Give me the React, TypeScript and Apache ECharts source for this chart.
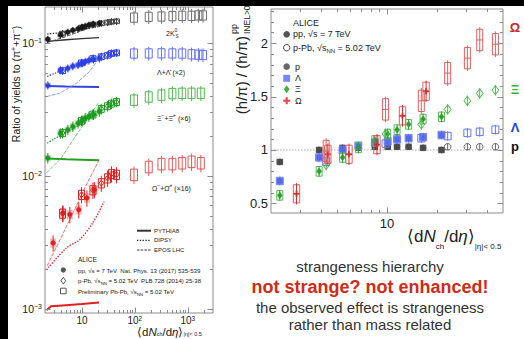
import React, { useEffect, useRef } from 'react';
import * as echarts from 'echarts';

const FONT = '"Liberation Sans", Arial, Helvetica, sans-serif';
const INK = '#222';
const FRAME = '#8c8c8c';

// ---- multiplicity classes <dNch/deta> ----
const ppMult = [2.26, 3.9, 5.4, 6.72, 8.45, 10.1, 11.5, 13.5, 16.5, 21.3];
const ppMultOmega = [2.85, 4.4, 5.9, 8.7, 12.4, 17.2];
const pPbMult = [4.3, 9.8, 16.1, 23.2, 30.5, 36.2, 45];
const pPbMultProton = [23.2, 30.5, 36.2, 45];
const pbpbMult = [96.3, 183, 318, 512, 786, 1180, 1587, 1943];
const pbpbMult7 = [96.3, 183, 318, 512, 786, 1180, 1764];

// ---- left panel: ratio of yields to pions ----
const k0sPP = [0.107, 0.115, 0.121, 0.125, 0.128, 0.132, 0.134, 0.137, 0.139, 0.141];
const k0sPPb = [0.118, 0.131, 0.138, 0.141, 0.143, 0.145, 0.146];
const k0sPbPb = [0.156, 0.158, 0.159, 0.16, 0.161, 0.161, 0.162, 0.162];
const lamPP = [0.048, 0.0626, 0.0645, 0.067, 0.0684, 0.0705, 0.0724, 0.074, 0.0755, 0.0767];
const lamPPb = [0.062, 0.071, 0.0765, 0.079, 0.081, 0.0836, 0.0845];
const lamPbPb = [0.0836, 0.0838, 0.084, 0.0838, 0.0836, 0.0825, 0.082, 0.0815];
const xiPP = [0.0136, 0.0209, 0.0222, 0.0235, 0.0249, 0.026, 0.0272, 0.028, 0.029, 0.0305];
const xiPPb = [0.021, 0.026, 0.029, 0.032, 0.0335, 0.035, 0.036];
const xiPbPb = [0.0373, 0.0394, 0.0407, 0.0418, 0.042, 0.042, 0.042];
const omPP = [0.00312, 0.00525, 0.0051, 0.00555, 0.0068, 0.00785];
const omPPb = [0.0052, 0.0072, 0.0078, 0.0088, 0.0096, 0.01035, 0.0102];
const omPbPb = [0.0102, 0.0117, 0.0123, 0.0123, 0.0125, 0.0128, 0.0125];

// ---- left panel: model curves ----
const k0sPythiaX = [2.2, 5, 10, 21];
const k0sPythiaY = [0.103, 0.106, 0.108, 0.11];
const k0sDipsyX = [2.2, 4, 8, 21];
const k0sDipsyY = [0.117, 0.12, 0.125, 0.133];
const k0sEposX = [2.2, 5, 10, 21];
const k0sEposY = [0.101, 0.112, 0.124, 0.138];
const lamPythiaX = [2.2, 5, 10, 21];
const lamPythiaY = [0.0475, 0.047, 0.0468, 0.0466];
const lamDipsyX = [2.2, 3, 5, 8, 12, 20];
const lamDipsyY = [0.056, 0.059, 0.064, 0.068, 0.072, 0.076];
const lamEposX = [2.14, 3.8, 7.8, 13.8, 21];
const lamEposY = [0.0395, 0.0419, 0.0497, 0.0608, 0.0767];
const xiPythiaX = [2.2, 5, 10, 21];
const xiPythiaY = [0.0135, 0.0133, 0.0132, 0.0131];
const xiDipsyX = [2.2, 3, 5, 8, 12, 20];
const xiDipsyY = [0.0176, 0.019, 0.021, 0.0235, 0.026, 0.029];
const xiEposX = [2.14, 4, 7, 12, 21];
const xiEposY = [0.0105, 0.0135, 0.019, 0.026, 0.036];
const omPythiaX = [2.14, 2.6, 5, 10, 21];
const omPythiaY = [0.00097, 0.00104, 0.00106, 0.00108, 0.00111];
const omDipsyX = [2.14, 5.07, 8.98, 15.9, 26.3];
const omDipsyY = [0.00196, 0.00286, 0.0033, 0.0044, 0.0064];
const omEposX = [2.2, 4, 7.24, 12, 21.2];
const omEposY = [0.0021, 0.0034, 0.00555, 0.0085, 0.0132];

// ---- right panel: double ratio (h/pi)/(h/pi)pp INEL>0 ----
const protonPP = [0.888, 1.0, 1.02, 1.02, 1.03, 1.03, 1.03, 1.03, 1.02, 1.0];
const protonPPb = [1.03, 1.03, 1.03, 1.03];
const lambdaPP = [0.71, 0.93, 1.0, 1.04, 1.07, 1.08, 1.1, 1.11, 1.12, 1.14];
const lambdaPPb = [0.89, 1.06, 1.11, 1.13, 1.16, 1.17, 1.19];
const xiRPP = [0.575, 0.8, 0.93, 1.02, 1.09, 1.15, 1.19, 1.24, 1.29, 1.31];
const xiRPPb = [0.86, 1.15, 1.24, 1.38, 1.46, 1.53, 1.56];
const omegaPP = [0.59, 0.96, 0.96, 1.05, 1.32, 1.55];
const omegaPPb = [0.99, 1.38, 1.46, 1.72, 1.86, 2.03, 1.99];
const referenceLevel = [1];

// ---- tick labels ----
const leftXTickValues = [10, 100, 1000];
const leftXTickExp = ['', '2', '3'];
const leftYTickValues = [0.001, 0.01, 0.1];
const leftYTickExp = ['−3', '−2', '−1'];
const rightXTickValues = [10];
const rightXTickLabels = ['10'];
const rightYTickValues = [0.5, 1, 1.5, 2];
const rightYTickLabels = ['0.5', '1', '1.5', '2'];

function logMinor(decades: number[], lo: number, hi: number): number[] {
  const out: number[] = [];
  decades.forEach((d) => {
    for (let k = 2; k <= 9; k++) {
      const v = +(k * d).toPrecision(6);
      if (v > lo * 1.0001 && v < hi * 0.9999) out.push(v);
    }
  });
  return out;
}
const leftXMinor = logMinor([1, 10, 100, 1000], 2, 3000);
const leftYMinor = logMinor([0.0001, 0.001, 0.01, 0.1], 0.000925, 0.187);
const rightXMinor = logMinor([1, 10], 2, 50);
const rightYMinor: number[] = [];
for (let i = 5; i <= 23; i++) if (i % 5 !== 0) rightYMinor.push(i / 10);

type PStyle = {
  shape: 'circle' | 'square' | 'diamond' | 'plus' | 'none';
  filled: boolean;
  color: string;
  boxFill?: string;
  boxStroke?: string;
  bw: number;
  ms: number;
  bar: string;
  cross?: boolean;
};

function markerShape(shape: string, filled: boolean, color: string, cx: number, cy: number, m: number): any[] {
  const st = filled ? { fill: color, stroke: color, lineWidth: 0.5 } : { fill: 'none', stroke: color, lineWidth: 1 };
  if (shape === 'circle') return [{ type: 'circle', shape: { cx, cy, r: m }, style: st }];
  if (shape === 'square') return [{ type: 'rect', shape: { x: cx - m, y: cy - m, width: 2 * m, height: 2 * m }, style: st }];
  if (shape === 'diamond')
    return [{ type: 'polygon', shape: { points: [[cx, cy - m * 1.35], [cx + m, cy], [cx, cy + m * 1.35], [cx - m, cy]] }, style: st }];
  if (shape === 'plus')
    return [
      { type: 'rect', shape: { x: cx - m, y: cy - 0.9, width: 2 * m, height: 1.8 }, style: { fill: color } },
      { type: 'rect', shape: { x: cx - 0.9, y: cy - m, width: 1.8, height: 2 * m }, style: { fill: color } },
    ];
  return [];
}

function makeRender(st: PStyle) {
  return (params: any, api: any) => {
    const x = api.value(0);
    const p = api.coord([x, api.value(1)]);
    const eLo = api.coord([x, api.value(2)])[1];
    const eHi = api.coord([x, api.value(3)])[1];
    const bLo = api.coord([x, api.value(4)])[1];
    const bHi = api.coord([x, api.value(5)])[1];
    const ch: any[] = [];
    if (st.bw > 0 && (st.boxFill || st.boxStroke))
      ch.push({
        type: 'rect',
        shape: { x: p[0] - st.bw, y: bHi, width: 2 * st.bw, height: bLo - bHi },
        style: { fill: st.boxFill || 'none', stroke: st.boxStroke || 'none', lineWidth: 1 },
      });
    ch.push({ type: 'line', shape: { x1: p[0], y1: eLo, x2: p[0], y2: eHi }, style: { stroke: st.bar, lineWidth: 1 } });
    if (st.cross)
      ch.push({ type: 'line', shape: { x1: p[0] - st.bw, y1: p[1], x2: p[0] + st.bw, y2: p[1] }, style: { stroke: st.bar, lineWidth: 1 } });
    markerShape(st.shape, st.filled, st.color, p[0], p[1], st.ms).forEach((e) => ch.push(e));
    return { type: 'group', children: ch };
  };
}

function points(gi: number, xs: number[], ys: number[], box: number, bar: number, rel: boolean, st: PStyle) {
  const data = xs.map((x, i) => {
    const y = ys[i];
    return rel
      ? [x, y, y * (1 - bar), y * (1 + bar), y * (1 - box), y * (1 + box)]
      : [x, y, y - bar, y + bar, y - box, y + box];
  });
  return { type: 'custom', xAxisIndex: gi, yAxisIndex: gi, data, encode: { x: 0, y: 1 }, renderItem: makeRender(st), silent: true, z: 3 };
}

function model(xs: number[], ys: number[], color: string, kind: 'pythia' | 'dipsy' | 'epos', width?: number) {
  return {
    type: 'line',
    xAxisIndex: 0,
    yAxisIndex: 0,
    data: xs.map((x, i) => [x, ys[i]]),
    showSymbol: false,
    symbol: 'none',
    smooth: kind === 'dipsy' ? 0.3 : false,
    silent: true,
    z: 2,
    lineStyle: {
      color,
      width: width || (kind === 'pythia' ? 2 : kind === 'dipsy' ? 1.3 : 0.9),
      type: kind === 'pythia' ? 'solid' : kind === 'dipsy' ? [1.4, 1.4] : [4, 1.2],
    },
  };
}

function ticks(gi: number, dir: 'x' | 'y', values: number[], major: boolean, ref: number) {
  const L = major ? 5.5 : 3;
  return {
    type: 'custom',
    xAxisIndex: gi,
    yAxisIndex: gi,
    silent: true,
    z: 6,
    data: values.map((v) => (dir === 'x' ? [v, ref] : [ref, v])),
    encode: { x: 0, y: 1 },
    renderItem: (params: any, api: any) => {
      const cs = params.coordSys;
      const p = api.coord([api.value(0), api.value(1)]);
      const st = { stroke: FRAME, lineWidth: 1 };
      if (dir === 'x') {
        const x = Math.round(p[0]) + 0.5;
        return {
          type: 'group',
          children: [
            { type: 'line', shape: { x1: x, y1: cs.y + cs.height, x2: x, y2: cs.y + cs.height - L }, style: st },
            { type: 'line', shape: { x1: x, y1: cs.y, x2: x, y2: cs.y + L }, style: st },
          ],
        };
      }
      const y = Math.round(p[1]) + 0.5;
      return {
        type: 'group',
        children: [
          { type: 'line', shape: { x1: cs.x, y1: y, x2: cs.x + L, y2: y }, style: st },
          { type: 'line', shape: { x1: cs.x + cs.width, y1: y, x2: cs.x + cs.width - L, y2: y }, style: st },
        ],
      };
    },
  };
}

function labels(gi: number, dir: 'x' | 'y', values: number[], texts: string[], ref: number, size: number, supSize: number, offset: number) {
  return {
    type: 'custom',
    xAxisIndex: gi,
    yAxisIndex: gi,
    silent: true,
    z: 6,
    data: values.map((v) => (dir === 'x' ? [v, ref] : [ref, v])),
    encode: { x: 0, y: 1 },
    renderItem: (params: any, api: any) => {
      const cs = params.coordSys;
      const p = api.coord([api.value(0), api.value(1)]);
      const t = texts[params.dataIndex];
      const rich = {
        b: { fontSize: size, fontFamily: FONT, fill: INK, lineHeight: size + 1 },
        s: { fontSize: supSize, fontFamily: FONT, fill: INK, lineHeight: supSize, verticalAlign: 'top' },
      };
      return {
        type: 'text',
        x: dir === 'x' ? p[0] : cs.x - offset,
        y: dir === 'x' ? cs.y + cs.height + offset : p[1],
        style: { text: t, rich, align: dir === 'x' ? 'center' : 'right', verticalAlign: 'middle' },
      };
    },
  };
}

const pow10 = (exp: string[]) => exp.map((e) => (e ? `{b|10}{s|${e}}` : '{b|10}'));

const refLineSeries = {
  type: 'custom',
  xAxisIndex: 1,
  yAxisIndex: 1,
  silent: true,
  z: 1,
  data: referenceLevel.map((v) => [10, v]),
  encode: { x: 0, y: 1 },
  renderItem: (params: any, api: any) => {
    const cs = params.coordSys;
    const y = api.coord([api.value(0), api.value(1)])[1];
    return {
      type: 'line',
      shape: { x1: cs.x, y1: y, x2: cs.x + cs.width, y2: y },
      style: { stroke: '#b0b0b0', lineWidth: 1, lineDash: [1.5, 1.5] },
    };
  },
};

// colours
const LK = '#1a1a1a', LL = '#3040e8', LX = '#1f9a1f', LO = '#dd2020';
const PK = '#707070', PL = '#6474f2', PX = '#52b852', PO = '#e05a5a';

function ppStyle(c: string, fill: string): PStyle {
  return { shape: 'circle', filled: true, color: c, boxFill: fill, bw: 3, ms: 2.3, bar: c };
}
function pPbStyle(c: string): PStyle {
  return { shape: 'diamond', filled: false, color: c, boxStroke: c, bw: 3, ms: 2.3, bar: c };
}
function pbStyle(c: string): PStyle {
  return { shape: 'none', filled: false, color: c, boxStroke: c, bw: 3.5, ms: 0, bar: c };
}

const leftSeries: any[] = [
  model(k0sPythiaX, k0sPythiaY, '#333', 'pythia', 1.4),
  model(k0sDipsyX, k0sDipsyY, '#333', 'dipsy'),
  model(k0sEposX, k0sEposY, '#555', 'epos'),
  model(lamPythiaX, lamPythiaY, '#3344dd', 'pythia'),
  model(lamDipsyX, lamDipsyY, '#3344dd', 'dipsy'),
  model(lamEposX, lamEposY, '#8090ff', 'epos'),
  model(xiPythiaX, xiPythiaY, '#22a022', 'pythia'),
  model(xiDipsyX, xiDipsyY, '#22a022', 'dipsy'),
  model(xiEposX, xiEposY, '#6cc46c', 'epos'),
  model(omPythiaX, omPythiaY, '#e02020', 'pythia'),
  model(omDipsyX, omDipsyY, '#e02020', 'dipsy'),
  model(omEposX, omEposY, '#ee6060', 'epos'),
  points(0, pbpbMult, k0sPbPb, 0.08, 0.12, true, pbStyle(PK)),
  points(0, pbpbMult, lamPbPb, 0.08, 0.12, true, pbStyle(PL)),
  points(0, pbpbMult7, xiPbPb, 0.09, 0.13, true, pbStyle(PX)),
  points(0, pbpbMult7, omPbPb, 0.1, 0.15, true, pbStyle(PO)),
  points(0, pPbMult, k0sPPb, 0.04, 0.06, true, pPbStyle('#444')),
  points(0, ppMult, k0sPP, 0.04, 0.06, true, ppStyle(LK, 'rgba(0,0,0,0.3)')),
  points(0, pPbMult, lamPPb, 0.05, 0.07, true, pPbStyle(LL)),
  points(0, ppMult, lamPP, 0.05, 0.07, true, ppStyle(LL, 'rgba(48,64,232,0.3)')),
  points(0, pPbMult, xiPPb, 0.06, 0.09, true, pPbStyle(LX)),
  points(0, ppMult, xiPP, 0.06, 0.09, true, ppStyle(LX, 'rgba(31,154,31,0.3)')),
  points(0, pPbMult, omPPb, 0.08, 0.14, true, pPbStyle(LO)),
  points(0, ppMultOmega, omPP, 0.08, 0.14, true, ppStyle(LO, 'rgba(221,32,32,0.3)')),
  ticks(0, 'x', leftXTickValues, true, 0.01),
  ticks(0, 'x', leftXMinor, false, 0.01),
  ticks(0, 'y', leftYTickValues, true, 10),
  ticks(0, 'y', leftYMinor, false, 10),
  labels(0, 'x', leftXTickValues, pow10(leftXTickExp), 0.01, 10, 6.5, 7),
  labels(0, 'y', leftYTickValues, pow10(leftYTickExp), 10, 10.5, 7, 3),
];

const rightSeries: any[] = [
  refLineSeries,
  points(1, ppMult, protonPP, 0.03, 0.03, false, { shape: 'circle', filled: true, color: '#4a4a4a', boxFill: '#5e5e5e', bw: 3.3, ms: 2.8, bar: '#4a4a4a' }),
  points(1, pPbMultProton, protonPPb, 0.02, 0.03, false, { shape: 'circle', filled: false, color: '#666', bw: 0, ms: 3.3, bar: '#666' }),
  points(1, ppMult, lambdaPP, 0.035, 0.04, false, { shape: 'square', filled: true, color: '#5568ee', boxFill: 'rgba(120,135,255,0.55)', boxStroke: 'rgba(110,125,255,0.9)', bw: 3.5, ms: 2.8, bar: '#5568ee' }),
  points(1, pPbMult, lambdaPPb, 0.035, 0.045, false, { shape: 'none', filled: false, color: '#6677ee', boxStroke: '#6677ee', bw: 3.5, ms: 0, bar: '#6677ee' }),
  points(1, ppMult, xiRPP, 0.045, 0.05, false, { shape: 'diamond', filled: true, color: '#2e9e2e', boxStroke: '#55bb55', bw: 3, ms: 2.5, bar: '#2e9e2e' }),
  points(1, pPbMult, xiRPPb, 0.04, 0.05, false, { shape: 'diamond', filled: false, color: '#44bb44', bw: 0, ms: 3.4, bar: '#44bb44' }),
  points(1, ppMultOmega, omegaPP, 0.085, 0.1, false, { shape: 'plus', filled: true, color: '#d03030', boxStroke: '#e06060', bw: 3.2, ms: 3, bar: '#d03030' }),
  points(1, pPbMult, omegaPPb, 0.1, 0.12, false, { shape: 'none', filled: false, color: '#e06060', boxStroke: '#e06060', bw: 3, ms: 0, bar: '#e06060', cross: true }),
  ticks(1, 'x', rightXTickValues, true, 1),
  ticks(1, 'x', rightXMinor, false, 1),
  ticks(1, 'y', rightYTickValues, true, 10),
  ticks(1, 'y', rightYMinor, false, 10),
  labels(1, 'x', rightXTickValues, rightXTickLabels.map((t) => `{b|${t}}`), 1, 13, 8, 10.5),
  labels(1, 'y', rightYTickValues, rightYTickLabels.map((t) => `{b|${t}}`), 10, 13, 8, 3),
];

const txt = (x: number, y: number, text: string, size: number, extra: any = {}) => ({
  type: 'text',
  x,
  y,
  z: 10,
  style: { text, fontSize: size, fontFamily: FONT, fill: INK, align: 'left', verticalAlign: 'middle', ...extra },
});

const richT = (x: number, y: number, text: string, size: number, subSize: number, extra: any = {}) => ({
  type: 'text',
  x,
  y,
  z: 10,
  style: {
    text,
    align: 'left',
    verticalAlign: 'middle',
    rich: {
      a: { fontSize: size, fontFamily: FONT, fill: INK, lineHeight: size + 4 },
      i: { fontSize: size, fontFamily: FONT, fontStyle: 'italic', fill: INK, lineHeight: size + 4 },
      s: { fontSize: subSize, fontFamily: FONT, fill: INK, lineHeight: subSize, verticalAlign: 'bottom' },
      u: { fontSize: subSize, fontFamily: FONT, fill: INK, lineHeight: subSize, verticalAlign: 'top' },
    },
    ...extra,
  },
});

const diamondPts = (cx: number, cy: number, w: number, h: number) => [[cx, cy - h], [cx + w, cy], [cx, cy + h], [cx - w, cy]];

const graphic: any[] = [
  // left panel y title
  {
    type: 'text', x: 16, y: 84, rotation: Math.PI / 2, z: 10,
    style: {
      text: '{a|Ratio of yields to (π}{u|+}{a|+π}{u|−}{a|)}', align: 'center', verticalAlign: 'middle',
      rich: {
        a: { fontSize: 10.5, fontFamily: FONT, fill: INK, lineHeight: 13 },
        u: { fontSize: 7, fontFamily: FONT, fill: INK, lineHeight: 7, verticalAlign: 'top' },
      },
    },
  },
  // left panel x title
  richT(137, 331.5, '{a|⟨d}{i|N}{s|ch}{a|/d}{i|η}{a|⟩}{s||η|< 0.5}', 11.5, 5.5, {
    rich: {
      a: { fontSize: 11.5, fontFamily: FONT, fill: INK, lineHeight: 11 },
      i: { fontSize: 11.5, fontFamily: FONT, fontStyle: 'italic', fill: INK, lineHeight: 11 },
      s: { fontSize: 5.5, fontFamily: FONT, fill: INK, lineHeight: 5.5, verticalAlign: 'bottom' },
    },
  }),
  // species labels on the left panel
  richT(166, 33, '{a|2K}{u|0}', 7, 5),
  txt(175.5, 36, 'S', 4.5),
  txt(157, 72, 'Λ+Λ̄ (×2)', 7),
  richT(157, 118, '{a|Ξ}{u|−}{a|+Ξ̄}{u|+}{a| (×6)}', 7, 5),
  richT(152, 188, '{a|Ω}{u|−}{a|+Ω̄}{u|+}{a| (×16)}', 7, 5),
  // model legend (left)
  { type: 'line', z: 10, shape: { x1: 137, y1: 230.7, x2: 151, y2: 230.7 }, style: { stroke: '#333', lineWidth: 2 } },
  { type: 'line', z: 10, shape: { x1: 137, y1: 240.3, x2: 151, y2: 240.3 }, style: { stroke: '#333', lineWidth: 1.3, lineDash: [1.4, 1.4] } },
  { type: 'line', z: 10, shape: { x1: 137, y1: 250, x2: 151, y2: 250 }, style: { stroke: '#333', lineWidth: 1, lineDash: [2.5, 1.2] } },
  txt(154, 230.7, 'PYTHIA8', 6),
  txt(154, 240.3, 'DIPSY', 6),
  txt(154, 250, 'EPOS LHC', 6),
  // ALICE legend (left)
  txt(78, 259.3, 'ALICE', 6.5),
  { type: 'circle', z: 10, shape: { cx: 63.3, cy: 270, r: 2.6 }, style: { fill: '#555' } },
  { type: 'polygon', z: 10, shape: { points: diamondPts(63.3, 280.7, 2.4, 3.4) }, style: { fill: 'none', stroke: '#444', lineWidth: 0.9 } },
  { type: 'rect', z: 10, shape: { x: 60.5, y: 288.2, width: 5.6, height: 5.6 }, style: { fill: 'none', stroke: '#444', lineWidth: 0.9 } },
  richT(78, 270, '{a|pp, √s = 7 TeV  Nat. Phys. 13 (2017) 535-539}', 6.1, 4.3),
  richT(78, 280.7, '{a|p-Pb, √s}{s|NN}{a| = 5.02 TeV  PLB 728 (2014) 25-38}', 6.1, 4.3),
  richT(78, 291, '{a|Preliminary Pb-Pb, √s}{s|NN}{a| = 5.02 TeV}', 6.1, 4.3),
  // right panel y title
  {
    type: 'group', x: 241, y: 113, rotation: Math.PI / 2, z: 10,
    children: [
      { type: 'text', x: 77, y: 0, style: { text: '(h/π) / (h/π)', fontSize: 15, fontFamily: FONT, fill: INK, align: 'right', verticalAlign: 'middle' } },
      { type: 'text', x: 79, y: -7.5, style: { text: 'pp', fontSize: 9, fontFamily: FONT, fill: INK, align: 'left', verticalAlign: 'middle' } },
      { type: 'text', x: 79, y: 5.5, style: { text: 'INEL>0', fontSize: 8.5, fontFamily: FONT, fill: INK, align: 'left', verticalAlign: 'middle' } },
    ],
  },
  // right panel x title
  richT(407, 236, '{a|⟨d}{i|N}{s|ch}{a|/d}{i|η}{a|⟩}{s||η|< 0.5}', 17, 8, {
    rich: {
      a: { fontSize: 17, fontFamily: FONT, fill: INK, lineHeight: 28 },
      i: { fontSize: 17, fontFamily: FONT, fontStyle: 'italic', fill: INK, lineHeight: 28 },
      s: { fontSize: 8, fontFamily: FONT, fill: INK, lineHeight: 9, verticalAlign: 'bottom' },
    },
  }),
  // right legend
  txt(293, 22.7, 'ALICE', 9),
  { type: 'circle', z: 10, shape: { cx: 286.7, cy: 34.3, r: 3.3 }, style: { fill: '#555' } },
  richT(293, 34.3, '{a|pp, √s = 7 TeV}', 9, 6),
  { type: 'circle', z: 10, shape: { cx: 286.7, cy: 47.7, r: 3.2 }, style: { fill: 'none', stroke: '#444', lineWidth: 1 } },
  richT(293, 47.7, '{a|p-Pb, √s}{s|NN}{a| = 5.02 TeV}', 9, 6),
  { type: 'circle', z: 10, shape: { cx: 286.7, cy: 66.7, r: 3.3 }, style: { fill: '#666' } },
  txt(295, 66.7, 'p', 9),
  { type: 'rect', z: 10, shape: { x: 283.2, y: 74.8, width: 7, height: 7 }, style: { fill: '#7a86ff' } },
  txt(295, 78.3, 'Λ', 9),
  { type: 'polygon', z: 10, shape: { points: diamondPts(286.7, 89.3, 2.8, 4) }, style: { fill: '#40b040' } },
  txt(295, 89.3, 'Ξ', 9),
  { type: 'rect', z: 10, shape: { x: 283.2, y: 99.6, width: 7, height: 2.2 }, style: { fill: '#e05050' } },
  { type: 'rect', z: 10, shape: { x: 285.6, y: 97.2, width: 2.2, height: 7 }, style: { fill: '#e05050' } },
  txt(295, 100.7, 'Ω', 9),
  // species labels at the right margin
  txt(515, 27.5, 'Ω', 13, { fill: '#c8281e', fontWeight: 'bold', align: 'center' }),
  txt(515, 89, 'Ξ', 13, { fill: '#2db52d', fontWeight: 'bold', align: 'center' }),
  txt(515, 127, 'Λ', 13, { fill: '#1f3fd6', fontWeight: 'bold', align: 'center' }),
  txt(515, 146, 'p', 13, { fill: '#111', fontWeight: 'bold', align: 'center' }),
  // slide text
  txt(370, 266, 'strangeness hierarchy', 15, { fill: '#333', align: 'center' }),
  txt(370, 287, 'not strange? not enhanced!', 18, { fill: '#d02a18', fontWeight: 'bold', align: 'center' }),
  txt(370, 307, 'the observed effect is strangeness', 15, { fill: '#333', align: 'center' }),
  txt(370, 324.5, 'rather than mass related', 15, { fill: '#333', align: 'center' }),
  // black slide borders
  { type: 'rect', z: 100, shape: { x: 0, y: 0, width: 524, height: 6 }, style: { fill: '#000' } },
  { type: 'rect', z: 100, shape: { x: 0, y: 0, width: 8, height: 339 }, style: { fill: '#000' } },
];

const hiddenAxis = {
  axisLine: { show: false },
  axisTick: { show: false },
  axisLabel: { show: false },
  splitLine: { show: false },
};

const option: any = {
  animation: false,
  backgroundColor: '#fff',
  grid: [
    { left: 45, top: 7, width: 168, height: 306, show: true, borderColor: FRAME, borderWidth: 1, backgroundColor: 'transparent' },
    { left: 271, top: 9, width: 232, height: 204, show: true, borderColor: FRAME, borderWidth: 1, backgroundColor: 'transparent' },
  ],
  xAxis: [
    { type: 'log', logBase: 10, gridIndex: 0, min: 2, max: 3000, ...hiddenAxis },
    { type: 'log', logBase: 10, gridIndex: 1, min: 2, max: 50, ...hiddenAxis },
  ],
  yAxis: [
    { type: 'log', logBase: 10, gridIndex: 0, min: 0.000925, max: 0.187, ...hiddenAxis },
    { type: 'value', gridIndex: 1, min: 0.41, max: 2.32, ...hiddenAxis },
  ],
  series: [...leftSeries, ...rightSeries],
  graphic,
};

export default function App() {
  const ref = useRef<HTMLDivElement>(null);
  useEffect(() => {
    const chart = echarts.init(ref.current as HTMLDivElement, null, { renderer: 'svg' });
    chart.setOption(option);
    return () => chart.dispose();
  }, []);
  return <div ref={ref} style={{ position: 'fixed', left: 0, top: 0, width: 524, height: 339 }} />;
}
